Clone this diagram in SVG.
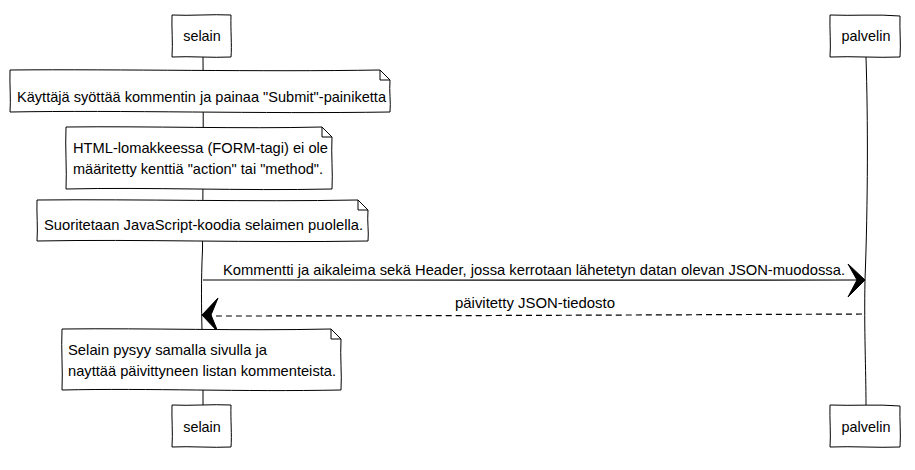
<svg xmlns="http://www.w3.org/2000/svg" width="915" height="470" viewBox="0 0 915 470">
<style>
.box{fill:#ffffff;stroke:#000000;stroke-width:1;}
.life{fill:none;stroke:#000000;stroke-width:1;}
.msg{fill:none;stroke:#000000;stroke-width:1.2;}
.dash{stroke-dasharray:6,4;}
.head{fill:#000000;stroke:#000000;stroke-width:1;}
text{font-family:"Liberation Sans",Arial,sans-serif;font-size:14.4px;fill:#000000;}
.c{text-anchor:middle;}
</style>
<rect width="915" height="470" fill="#ffffff"/>
<g id="lifelines">
<path class="life" d="M203,57 C203.5,120 203,180 202.5,250 C201,280 201.5,310 202,330"/>
<path class="life" d="M203,390 L203,405"/>
<path class="life" d="M866,57 C868,120 868,200 865,280 C864,330 866,370 866,405"/>
</g>
<g id="selain-top">
<path class="box" d="M172,15 C190,16 212,14 231,15 C230.5,30 232,45 231,57 C212,58 190,56 172,57 C173,43 171.5,28 172,15 Z"/>
<text class="c" x="202" y="41">selain</text>
</g>
<g id="palvelin-top">
<path class="box" d="M830,15 C852,16 878,14 900,16 C899.5,30 901,44 900,57 C878,58 852,56 830,57 C831,44 829.5,29 830,15 Z"/>
<text class="c" x="866" y="41">palvelin</text>
</g>
<g id="note1">
<path class="box" d="M10,70 C120,69 260,72 380,70 L390,80 C389,92 391,102 390,112 C260,114 120,110 10,112 C11,100 9.5,85 10,70 Z"/>
<path class="life" d="M380,70 L380,80 L390,80"/>
<text x="17" y="102" textLength="369" lengthAdjust="spacingAndGlyphs">Käyttäjä syöttää kommentin ja painaa "Submit"-painiketta</text>
</g>
<g id="note2">
<path class="box" d="M66,127 C150,126 240,129 322,127 L332,137 C331,155 333,172 332,189 C240,191 150,187 66,189 C67,170 65,148 66,127 Z"/>
<path class="life" d="M322,127 L322,137 L332,137"/>
<text x="73" y="153" textLength="255" lengthAdjust="spacingAndGlyphs">HTML-lomakkeessa (FORM-tagi) ei ole</text>
<text x="73" y="174" textLength="250" lengthAdjust="spacingAndGlyphs">määritetty kenttiä "action" tai "method".</text>
</g>
<g id="note3">
<path class="box" d="M37,200 C140,199 250,202 358,200 L368,210 C367,222 369,232 368,241 C250,243 140,239 37,241 C38,228 36.5,213 37,200 Z"/>
<path class="life" d="M358,200 L358,210 L368,210"/>
<text x="44" y="230" textLength="319" lengthAdjust="spacingAndGlyphs">Suoritetaan JavaScript-koodia selaimen puolella.</text>
</g>
<g id="connectors">
<path class="msg" d="M203,280 C420,279 640,281 858,280"/>
<path class="head" d="M865,280 L848,264 L857,280 L848,297 Z"/>
<text x="223" y="275" textLength="622" lengthAdjust="spacingAndGlyphs">Kommentti ja aikaleima sekä Header, jossa kerrotaan lähetetyn datan olevan JSON-muodossa.</text>
<path class="msg dash" d="M862,314 C640,315 420,316 210,316"/>
<path class="head" d="M202,315 L218,298 L211,315 L218,332 Z"/>
<text x="455" y="308" textLength="160" lengthAdjust="spacingAndGlyphs">päivitetty JSON-tiedosto</text>
</g>
<g id="note4">
<path class="box" d="M62,329 C150,328 240,331 331,329 L341,339 C340,357 342,374 341,390 C240,392 150,388 62,390 C63,370 61,350 62,329 Z"/>
<path class="life" d="M331,329 L331,339 L341,339"/>
<text x="68" y="355" textLength="199" lengthAdjust="spacingAndGlyphs">Selain pysyy samalla sivulla ja</text>
<text x="68" y="376" textLength="268" lengthAdjust="spacingAndGlyphs">nayttää päivittyneen listan kommenteista.</text>
</g>
<g id="selain-bottom">
<path class="box" d="M172,405 C190,406 212,404 231,405 C230.5,420 232,435 231,447 C212,448 190,446 172,447 C173,433 171.5,418 172,405 Z"/>
<text class="c" x="202" y="432">selain</text>
</g>
<g id="palvelin-bottom">
<path class="box" d="M830,405 C852,406 878,404 900,406 C899.5,420 901,434 900,447 C878,448 852,446 830,447 C831,434 829.5,419 830,405 Z"/>
<text class="c" x="866" y="432">palvelin</text>
</g>
</svg>
